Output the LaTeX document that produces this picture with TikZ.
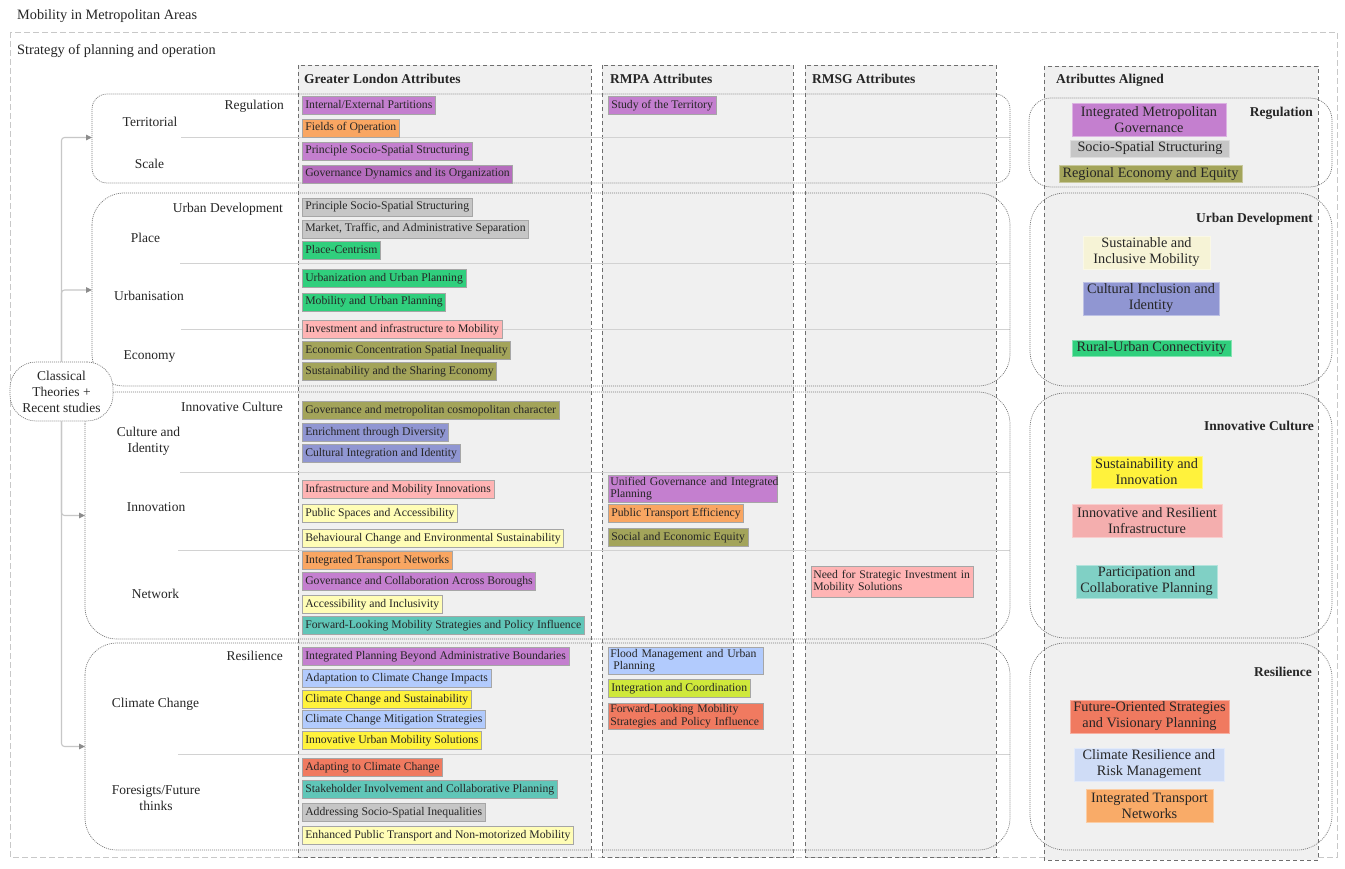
\documentclass[tikz,border=0pt]{standalone}
\usepackage{fontspec}
\setmainfont{Liberation Serif}
\usetikzlibrary{arrows.meta}
\definecolor{cpurple}{HTML}{C47FCF}
\definecolor{cpurpled}{HTML}{B56DBD}
\definecolor{corange}{HTML}{F9A662}
\definecolor{cgrey}{HTML}{C6C6C6}
\definecolor{cgreen}{HTML}{30CF7D}
\definecolor{cpink}{HTML}{FFB4B4}
\definecolor{colive}{HTML}{A3A45A}
\definecolor{cviolet}{HTML}{9096D2}
\definecolor{clyellow}{HTML}{FFFDB6}
\definecolor{cteal}{HTML}{60C6B8}
\definecolor{clblue}{HTML}{B2CBFD}
\definecolor{cyellow}{HTML}{FFF23C}
\definecolor{ccoral}{HTML}{F07A60}
\definecolor{cygreen}{HTML}{CFE83B}
\definecolor{acream}{HTML}{F6F3D6}
\definecolor{apink}{HTML}{F4AEAE}
\definecolor{ateal}{HTML}{80D0C5}
\definecolor{alblue}{HTML}{CFDCF6}
\definecolor{aorange}{HTML}{F9AB68}
\definecolor{colfill}{HTML}{F0F0F0}
\definecolor{coldash}{HTML}{6E6E6E}
\definecolor{outdash}{HTML}{C8C8C8}
\definecolor{grpdot}{HTML}{7A7A7A}
\definecolor{sepline}{HTML}{D2D2D2}
\definecolor{txt}{HTML}{262626}
\tikzset{
  gitem/.style={fill=#1, draw=black!35, line width=0.6pt, anchor=west, inner xsep=3pt, inner ysep=0pt,
    minimum height=18pt, text height=8.5pt, text depth=2.5pt, font=\fontsize{11.7}{12.5}\selectfont, text=txt},
  mitem/.style={fill=#1, draw=black!35, line width=0.6pt, anchor=north west, inner xsep=2pt, inner ysep=1pt,
    align=left, font=\fontsize{11.7}{12.5}\selectfont, text=txt},
  aitem/.style={fill=#1, draw=#1!60!white, line width=0.6pt, align=center, inner sep=0pt,
    font=\fontsize{14.3}{16}\selectfont, text=txt},
  lbl/.style={font=\fontsize{13.5}{16}\selectfont, text=txt, inner sep=0pt, align=center},
  hdr/.style={font=\fontsize{13.5}{16}\selectfont\bfseries, text=txt, inner sep=0pt},
  ttl/.style={font=\fontsize{14.3}{16}\selectfont, text=txt, inner sep=0pt, anchor=base west},
  colbox/.style={draw=coldash, fill=colfill, dash pattern=on 4pt off 3pt, line width=0.9pt},
  grp/.style={draw=grpdot, line width=0.7pt, dash pattern=on 1pt off 1pt},
  sep/.style={draw=sepline, line width=1pt},
  conn/.style={draw=black!22, line width=1.1pt, rounded corners=3pt, -{Triangle[length=6pt,width=5.5pt,color=black!45]}},
  ctn/.style={draw=grpdot, line width=0.7pt, dash pattern=on 1pt off 1pt, fill=white, rounded corners=26pt,
    minimum width=103pt, minimum height=59pt, align=center, inner sep=0pt, font=\fontsize{13.5}{16}\selectfont, text=txt}
}
\begin{document}
\begin{tikzpicture}[x=1pt,y=-1pt]
\useasboundingbox (0,0) rectangle (1345,869);
\fill[white] (0,0) rectangle (1345,869);

% titles
\node[ttl] (title) at (17,20) {Mobility in Metropolitan Areas};
\draw[outdash, dash pattern=on 6pt off 3pt, line width=0.8pt] (10,32) rectangle (1337,857);
\node[ttl] (strat) at (17,54.5) {Strategy of planning and operation};

% columns
\draw[colbox] (298,65) rectangle (591,857);
\draw[colbox] (602,65) rectangle (793,857);
\draw[colbox] (805,65) rectangle (996,857);
\draw[colbox] (1044,66) rectangle (1318,860);

\node[hdr, anchor=base west] (hgl) at (304,83.5) {Greater London Attributes};
\node[hdr, anchor=base west] (hrmpa) at (610,83.5) {RMPA Attributes};
\node[hdr, anchor=base west] (hrmsg) at (812,83.5) {RMSG Attributes};
\node[hdr, anchor=base west] (hal) at (1056,83.5) {Atributtes Aligned};

% separators
\draw[sep] (181,137.5) -- (1010,137.5);
\draw[sep] (180,263.5) -- (1010,263.5);
\draw[sep] (181,329) -- (1010,329);
\draw[sep] (180,472) -- (1010,472);
\draw[sep] (178,550.5) -- (1010,550.5);
\draw[sep] (178,754.5) -- (1010,754.5);

% left groups
\draw[grp, rounded corners=15pt] (92,94) rectangle (1010,183);
\draw[grp, rounded corners=32pt] (92,193) rectangle (1010,386);
\draw[grp, rounded corners=32pt] (85,392) rectangle (1010,639);
\draw[grp, rounded corners=32pt] (85,643) rectangle (1010,850);

% aligned groups
\draw[grp, rounded corners=22pt] (1029,98) rectangle (1332,187);
\draw[grp, rounded corners=35pt] (1030,193) rectangle (1332,386);
\draw[grp, rounded corners=35pt] (1030,393) rectangle (1332,638);
\draw[grp, rounded corners=35pt] (1030,643) rectangle (1332,850);

% left labels
\node[lbl, anchor=base east] (lreg) at (284,109.5) {Regulation};
\node[lbl, anchor=base] (lter) at (150,126.5) {Territorial};
\node[lbl, anchor=base] (lsca) at (149.5,168.5) {Scale};
\node[lbl, anchor=base east] (lud) at (283,212.5) {Urban Development};
\node[lbl, anchor=base] (lpla) at (145.5,242.5) {Place};
\node[lbl, anchor=base] (lurb) at (149,300.5) {Urbanisation};
\node[lbl, anchor=base] (leco) at (149.5,359.5) {Economy};
\node[lbl, anchor=base east] (lic) at (283,411.5) {Innovative Culture};
\node[lbl] (lcul) at (148.5,441) {Culture and\\Identity};
\node[lbl, anchor=base] (linn) at (156,511.5) {Innovation};
\node[lbl, anchor=base] (lnet) at (155.5,598.5) {Network};
\node[lbl, anchor=base east] (lres) at (283,660.5) {Resilience};
\node[lbl, anchor=base] (lcc) at (155.5,707.5) {Climate Change};
\node[lbl] (lfor) at (156,798) {Foresigts/Future\\thinks};

% Greater London items
\node[gitem=cpurple] (g1) at (302,105.5) {Internal/External Partitions};
\node[gitem=corange] (g2) at (302,128) {Fields of Operation};
\node[gitem=cpurple] (g3) at (302,151) {Principle Socio-Spatial Structuring};
\node[gitem=cpurpled] (g4) at (302,174) {Governance Dynamics and its Organization};
\node[gitem=cgrey] (g5) at (302,207) {Principle Socio-Spatial Structuring};
\node[gitem=cgrey] (g6) at (302,229) {Market, Traffic, and Administrative Separation};
\node[gitem=cgreen] (g7) at (302,250.5) {Place-Centrism};
\node[gitem=cgreen] (g8) at (302,278.5) {Urbanization and Urban Planning};
\node[gitem=cgreen] (g9) at (302,302) {Mobility and Urban Planning};
\node[gitem=cpink] (g10) at (302,329) {Investment and infrastructure to Mobility};
\node[gitem=colive] (g11) at (302,350.5) {Economic Concentration Spatial Inequality};
\node[gitem=colive] (g12) at (302,371.5) {Sustainability and the Sharing Economy};
\node[gitem=colive] (g13) at (302,410.5) {Governance and metropolitan cosmopolitan character};
\node[gitem=cviolet] (g14) at (302,432) {Enrichment through Diversity};
\node[gitem=cviolet] (g15) at (302,453) {Cultural Integration and Identity};
\node[gitem=cpink] (g16) at (302,489) {Infrastructure and Mobility Innovations};
\node[gitem=clyellow] (g17) at (302,513.5) {Public Spaces and Accessibility};
\node[gitem=clyellow] (g18) at (302,538) {Behavioural Change and Environmental Sustainability};
\node[gitem=corange] (g19) at (302,560.5) {Integrated Transport Networks};
\node[gitem=cpurple] (g20) at (302,581.5) {Governance and Collaboration Across Boroughs};
\node[gitem=clyellow] (g21) at (302,604) {Accessibility and Inclusivity};
\node[gitem=cteal] (g22) at (302,625.5) {Forward-Looking Mobility Strategies and Policy Influence};
\node[gitem=cpurple] (g23) at (302,656) {Integrated Planning Beyond Administrative Boundaries};
\node[gitem=clblue] (g24) at (302,678) {Adaptation to Climate Change Impacts};
\node[gitem=cyellow] (g25) at (302,699) {Climate Change and Sustainability};
\node[gitem=clblue] (g26) at (302,719) {Climate Change Mitigation Strategies};
\node[gitem=cyellow] (g27) at (302,740.5) {Innovative Urban Mobility Solutions};
\node[gitem=ccoral] (g28) at (302,767) {Adapting to Climate Change};
\node[gitem=cteal] (g29) at (302,789.5) {Stakeholder Involvement and Collaborative Planning};
\node[gitem=cgrey] (g30) at (302,812) {Addressing Socio-Spatial Inequalities};
\node[gitem=clyellow] (g31) at (302,835.5) {Enhanced Public Transport and Non-motorized Mobility};

% RMPA items
\node[gitem=cpurple] (r1) at (608,105.5) {Study of the Territory};
\node[mitem=cpurple, text width=165pt, minimum height=27pt] (r2) at (608,475) {\mbox{Unified Governance and Integrated}\\Planning};
\node[gitem=corange] (r3) at (608,513) {Public Transport Efficiency};
\node[gitem=colive] (r4) at (608,537.5) {Social and Economic Equity};
\node[mitem=clblue, text width=151pt, minimum height=27pt] (r5) at (608,647) {\mbox{Flood Management and Urban}\\\hspace*{3pt}Planning};
\node[gitem=cygreen] (r6) at (608,688.5) {Integration and Coordination};
\node[mitem=ccoral, text width=151pt, minimum height=26pt] (r7) at (608,703) {\mbox{Forward-Looking Mobility}\\\mbox{Strategies and Policy Influence}};

% RMSG items
\node[mitem=cpink, text width=158pt, minimum height=31pt] (s1) at (811,566) {\mbox{Need for Strategic Investment in}\\Mobility Solutions};

% aligned headers
\node[hdr, anchor=base east] (areg) at (1313,116.5) {Regulation};
\node[hdr, anchor=base east] (aud) at (1313,222.5) {Urban Development};
\node[hdr, anchor=base east] (aic) at (1314,430.5) {Innovative Culture};
\node[hdr, anchor=base east] (ares) at (1312,676) {Resilience};

% aligned items
\node[aitem=cpurple, minimum width=154pt, minimum height=33pt] (a1) at (1149,119.5) {Integrated Metropolitan\\Governance};
\node[aitem=cgrey, minimum width=159pt, minimum height=17pt] (a2) at (1150,148.5) {Socio-Spatial Structuring};
\node[aitem=colive, minimum width=183pt, minimum height=17pt] (a3) at (1150.5,174) {Regional Economy and Equity};
\node[aitem=acream, minimum width=127pt, minimum height=33pt] (a4) at (1146.5,252.5) {Sustainable and\\Inclusive Mobility};
\node[aitem=cviolet, minimum width=136pt, minimum height=33pt] (a5) at (1151,298.5) {Cultural Inclusion and\\Identity};
\node[aitem=cgreen, minimum width=159pt, minimum height=16pt] (a6) at (1151.5,348) {Rural-Urban Connectivity};
\node[aitem=cyellow, minimum width=111pt, minimum height=32pt] (a7) at (1146.5,472) {Sustainability and\\Innovation};
\node[aitem=apink, minimum width=150pt, minimum height=33pt] (a8) at (1147,520.5) {Innovative and Resilient\\Infrastructure};
\node[aitem=ateal, minimum width=141pt, minimum height=33pt] (a9) at (1146.5,581.5) {Participation and\\Collaborative Planning};
\node[aitem=ccoral, minimum width=159pt, minimum height=33pt] (a10) at (1149.5,716.5) {Future-Oriented Strategies\\and Visionary Planning};
\node[aitem=alblue, minimum width=150pt, minimum height=33pt] (a11) at (1149,764.5) {Climate Resilience and\\Risk Management};
\node[aitem=aorange, minimum width=127pt, minimum height=33pt] (a12) at (1149.5,805.5) {Integrated Transport\\Networks};

% central node and connectors
\node[ctn] (ct) at (61.5,391.5) {Classical\\Theories +\\Recent studies};
\coordinate (t1) at (92,137.5);
\coordinate (t2) at (92,290);
\coordinate (t3) at (85,515.5);
\coordinate (t4) at (85,746.5);
\draw[conn] (ct.north) |- (t1);
\draw[conn] (ct.north) |- (t2);
\draw[conn] (ct.south) |- (t3);
\draw[conn] (ct.south) |- (t4);
\end{tikzpicture}
\end{document}
